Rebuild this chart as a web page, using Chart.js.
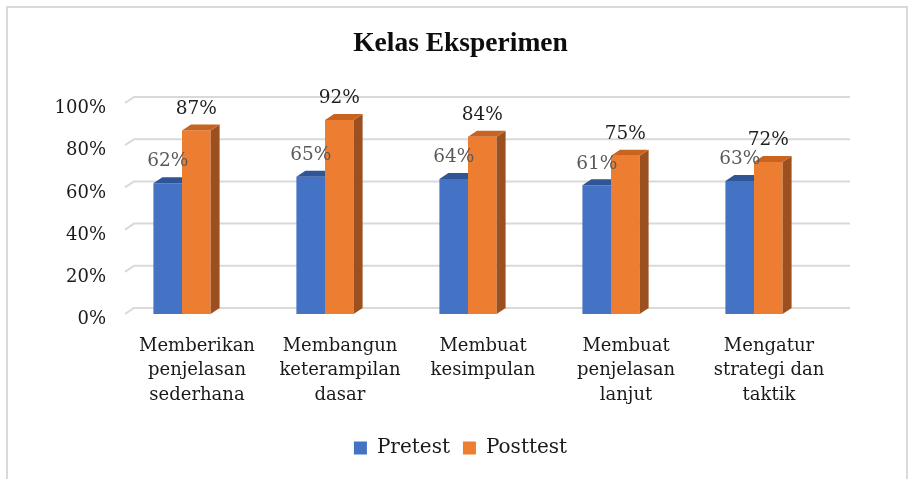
<!DOCTYPE html>
<html>
<head>
<meta charset="utf-8">
<title>Kelas Eksperimen</title>
<script src="https://cdn.jsdelivr.net/npm/chart.js@4.4.1/dist/chart.umd.min.js"></script>
<style>
    html, body { margin: 0; padding: 0; background: #ffffff; }
    #wrap { position: relative; width: 913px; height: 479px; overflow: hidden; }
    #frame {
        position: absolute; left: 6px; top: 6px; width: 898px; height: 520px;
        border: 2px solid #d9d9d9; border-bottom: none; pointer-events: none;
    }
</style>
</head>
<body>
<div id="wrap">
    <canvas id="chart" width="913" height="479"></canvas>
    <div id="frame"></div>
</div>
<script>
// Data
const categories = [
    ['Memberikan', 'penjelasan', 'sederhana'],
    ['Membangun', 'keterampilan', 'dasar'],
    ['Membuat', 'kesimpulan'],
    ['Membuat', 'penjelasan', 'lanjut'],
    ['Mengatur', 'strategi dan', 'taktik']
];
const pretest = [62, 65, 64, 61, 63];
const posttest = [87, 92, 84, 75, 72];
const yTicks = [0, 20, 40, 60, 80, 100];

const COLORS = {
    pretest:  { front: '#4472C4', top: '#2F5597', side: '#2B4F8F', label: '#595959' },
    posttest: { front: '#ED7D31', top: '#C8641F', side: '#9C5020', label: '#1f1f1f' }
};

// Depth of the fake 3D walls/bars
const DEPTH_X = 9;
const DEPTH_Y = -6;

const SERIF = '"DejaVu Serif", serif';

/**
 * Back wall gridlines with a short diagonal at the left
 */
const gridPlugin = {
    id: 'grid3d',
    beforeDatasetsDraw(chart) {
        const { ctx, chartArea } = chart;
        const y = chart.scales.y;
        const x0 = chartArea.left + 14.5;
        const x1 = chartArea.right + 24.5;
        ctx.save();
        ctx.strokeStyle = '#d9d9d9';
        ctx.lineWidth = 2;
        yTicks.forEach(v => {
            const py = y.getPixelForValue(v);
            ctx.beginPath();
            ctx.moveTo(x0, py);
            ctx.lineTo(x0 + DEPTH_X, py + DEPTH_Y);
            ctx.lineTo(x1, py + DEPTH_Y);
            ctx.stroke();
        });
        ctx.restore();
    }
};

/**
 * Draw datasets in index order (pretest first) and add top/side faces
 */
const bar3dPlugin = {
    id: 'bar3d',
    beforeDatasetDraw() {
        return false; // drawn below, in our own order
    },
    afterDatasetsDraw(chart) {
        const { ctx } = chart;
        chart.data.datasets.forEach((ds, i) => {
            const meta = chart.getDatasetMeta(i);
            const col = i === 0 ? COLORS.pretest : COLORS.posttest;
            meta.controller.draw();
            ctx.save();
            meta.data.forEach(bar => {
                const l = bar.x - bar.width / 2;
                const r = bar.x + bar.width / 2;
                // side
                ctx.fillStyle = col.side;
                ctx.beginPath();
                ctx.moveTo(r, bar.y);
                ctx.lineTo(r + DEPTH_X, bar.y + DEPTH_Y);
                ctx.lineTo(r + DEPTH_X, bar.base + DEPTH_Y);
                ctx.lineTo(r, bar.base);
                ctx.closePath();
                ctx.fill();
                // top
                ctx.fillStyle = col.top;
                ctx.beginPath();
                ctx.moveTo(l, bar.y);
                ctx.lineTo(r, bar.y);
                ctx.lineTo(r + DEPTH_X, bar.y + DEPTH_Y);
                ctx.lineTo(l + DEPTH_X, bar.y + DEPTH_Y);
                ctx.closePath();
                ctx.fill();
            });
            ctx.restore();
        });
    }
};

/**
 * Value labels above the bars
 */
const valueLabelPlugin = {
    id: 'valueLabels',
    afterDatasetsDraw(chart) {
        const { ctx } = chart;
        ctx.save();
        ctx.font = '18.5px ' + SERIF;
        ctx.textAlign = 'center';
        ctx.textBaseline = 'middle';
        chart.data.datasets.forEach((ds, i) => {
            const meta = chart.getDatasetMeta(i);
            ctx.fillStyle = i === 0 ? COLORS.pretest.label : COLORS.posttest.label;
            meta.data.forEach((bar, j) => {
                ctx.fillText(ds.data[j] + '%', bar.x, bar.y - 21.5);
            });
        });
        ctx.restore();
    }
};

const ctx = document.getElementById('chart').getContext('2d');
new Chart(ctx, {
    type: 'bar',
    data: {
        labels: categories,
        datasets: [
            {
                label: 'Pretest',
                data: pretest,
                backgroundColor: COLORS.pretest.front,
                borderWidth: 0
            },
            {
                label: 'Posttest',
                data: posttest,
                backgroundColor: COLORS.posttest.front,
                borderWidth: 0
            }
        ]
    },
    options: {
        responsive: false,
        animation: false,
        devicePixelRatio: 1,
        layout: {
            padding: { left: 8, right: 0, top: 0, bottom: 11 }
        },
        datasets: {
            bar: { categoryPercentage: 0.4, barPercentage: 1.0 }
        },
        plugins: {
            title: {
                display: true,
                text: 'Kelas Eksperimen',
                color: '#0d0d0d',
                font: { family: '"Liberation Serif", serif', size: 27.5, weight: 'bold' },
                padding: { top: 27, bottom: 43 }
            },
            legend: {
                display: true,
                position: 'bottom',
                labels: {
                    boxWidth: 13,
                    boxHeight: 13,
                    padding: 13,
                    color: '#1a1a1a',
                    font: { family: SERIF, size: 20 }
                }
            },
            tooltip: { enabled: false }
        },
        scales: {
            x: {
                grid: { display: false, drawTicks: false },
                border: { display: false },
                ticks: {
                    color: '#1a1a1a',
                    padding: 19.5,
                    labelOffset: 15,
                    maxRotation: 0,
                    autoSkip: false,
                    font: { family: SERIF, size: 18, lineHeight: 1.37 }
                },
                afterFit(scale) { scale.height = 111; }
            },
            y: {
                min: 0,
                max: 100,
                grid: { display: false, drawTicks: false },
                border: { display: false },
                ticks: {
                    stepSize: 20,
                    color: '#1a1a1a',
                    padding: 4.5,
                    labelOffset: 5.5,
                    font: { family: SERIF, size: 18 },
                    callback: v => v + '%'
                },
                afterFit(scale) { scale.width = 102.5; }
            },
            // empty right-hand spacer so title/legend stay centred on the page
            yRight: {
                position: 'right',
                min: 0,
                max: 100,
                grid: { display: false, drawTicks: false },
                border: { display: false },
                ticks: { display: false },
                afterFit(scale) { scale.width = 87.5; }
            }
        }
    },
    plugins: [gridPlugin, bar3dPlugin, valueLabelPlugin]
});
</script>
</body>
</html>
